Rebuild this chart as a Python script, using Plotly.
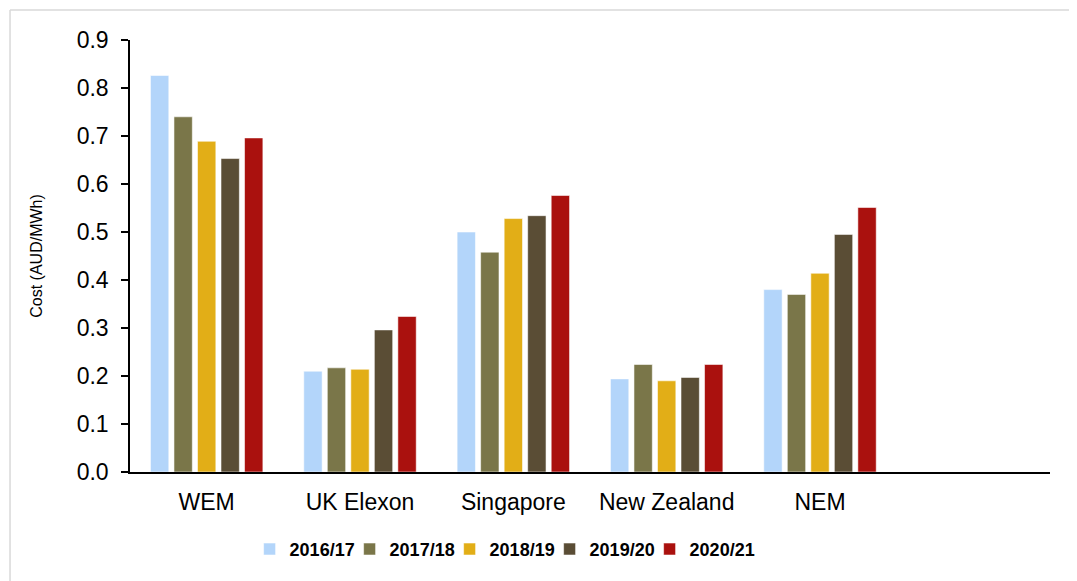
import plotly.graph_objects as go

categories = ["WEM", "UK Elexon", "Singapore", "New Zealand", "NEM"]
empty_slot = [" "]
years = ["2016/17", "2017/18", "2018/19", "2019/20", "2020/21"]
v_2016_17 = [0.826, 0.210, 0.500, 0.194, 0.380]
v_2017_18 = [0.740, 0.217, 0.458, 0.224, 0.370]
v_2018_19 = [0.689, 0.214, 0.528, 0.190, 0.414]
v_2019_20 = [0.653, 0.296, 0.534, 0.197, 0.495]
v_2020_21 = [0.696, 0.324, 0.576, 0.224, 0.551]
series = [v_2016_17, v_2017_18, v_2018_19, v_2019_20, v_2020_21]
colors = ["#B3D5FA", "#7A7649", "#E2AE17", "#5A4D35", "#AA110E"]
y_ticks = [0.0, 0.1, 0.2, 0.3, 0.4, 0.5, 0.6, 0.7, 0.8, 0.9]

fig = go.Figure()
for name, vals, col in zip(years, series, colors):
    fig.add_trace(go.Bar(
        x=categories, y=vals, name=name,
        marker=dict(color=col, line=dict(color="rgba(255,255,255,0.55)", width=1)),
    ))

# invisible spacer entry so the last legend label is not clipped
fig.add_trace(go.Scatter(
    x=[None], y=[None], mode="markers", name=" ",
    marker=dict(color="rgba(0,0,0,0)", size=1), hoverinfo="skip",
))

font = "Liberation Sans, Arial, sans-serif"
fig.update_layout(
    width=1069, height=573,
    margin=dict(l=122, r=27, t=32, b=109),
    paper_bgcolor="white", plot_bgcolor="white",
    barmode="group", bargap=0.233, bargroupgap=0.22,
    font=dict(family=font, color="black"),
    showlegend=True,
    legend=dict(
        orientation="h", x=0.13, y=-0.179, xanchor="left", yanchor="middle",
        font=dict(size=18, family=font, color="black", weight="bold"),
        itemwidth=30, entrywidth=55, entrywidthmode="pixels",
        bgcolor="rgba(0,0,0,0)",
    ),
    xaxis=dict(
        type="category", categoryorder="array",
        categoryarray=categories + empty_slot,
        range=[-0.5, 5.5],
        showline=True, linecolor="black", linewidth=2,
        ticks="", showgrid=False, zeroline=False,
        tickfont=dict(size=23, family=font, color="black"),
        ticklabelstandoff=8,
    ),
    yaxis=dict(
        range=[0, 0.9], tickvals=y_ticks, tickformat=".1f",
        showline=True, linecolor="black", linewidth=1.5,
        ticks="outside", ticklen=7, tickwidth=1.5, tickcolor="black",
        showgrid=False, zeroline=False,
        tickfont=dict(size=23, family=font, color="black"),
        ticklabelstandoff=8,
        title=dict(text="Cost (AUD/MWh)", font=dict(size=16, family=font, color="black"), standoff=30),
    ),
    shapes=[
        dict(type="line", xref="paper", yref="paper", x0=-0.1304, x1=1.03, y0=1.0694, y1=1.0694,
             line=dict(color="#D9D9D9", width=1.5)),
        dict(type="line", xref="paper", yref="paper", x0=-0.1304, x1=-0.1304, y0=1.0694, y1=-0.26,
             line=dict(color="#D9D9D9", width=1.5)),
    ],
)

fig.write_html("out.html")
